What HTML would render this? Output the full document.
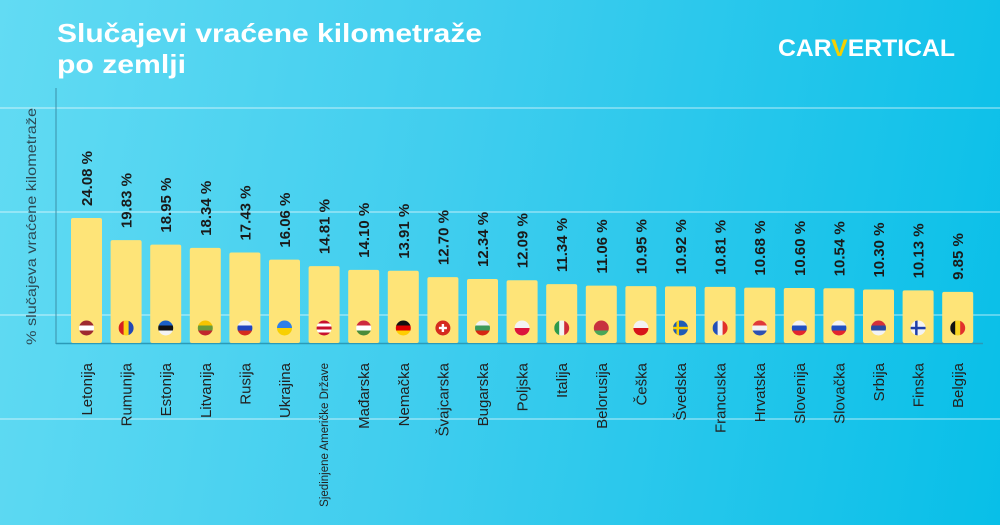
<!DOCTYPE html>
<html><head><meta charset="utf-8"><style>
html,body{margin:0;padding:0;width:1000px;height:525px;overflow:hidden}
body{background:linear-gradient(100deg,#62dbf3 0%,#3fcdee 45%,#08bfe8 100%);font-family:"Liberation Sans",sans-serif}
svg{position:absolute;left:0;top:0}
</style></head><body>
<svg id="s" width="1000" height="525" xmlns="http://www.w3.org/2000/svg">
<text x="57" y="42" fill="#fff" font-size="26" font-weight="bold" textLength="425" lengthAdjust="spacingAndGlyphs">Slučajevi vraćene kilometraže</text>
<text x="57" y="73" fill="#fff" font-size="26" font-weight="bold" textLength="129" lengthAdjust="spacingAndGlyphs">po zemlji</text>
<text x="778" y="56" fill="#fff" font-size="24" font-weight="bold" textLength="177" lengthAdjust="spacingAndGlyphs">CAR<tspan fill="#f5d000">V</tspan>ERTICAL</text>
<g stroke="#ffffff" stroke-opacity="0.45" stroke-width="1.5">
<line x1="0" y1="108" x2="1000" y2="108"/><line x1="0" y1="212" x2="1000" y2="212"/>
<line x1="0" y1="315" x2="1000" y2="315"/><line x1="0" y1="419" x2="1000" y2="419"/>
</g>
<line x1="56" y1="88" x2="56" y2="344" stroke="#3a8fa8" stroke-width="1"/>
<line x1="56" y1="343.5" x2="983" y2="343.5" stroke="#2a9ab8" stroke-width="1.5"/>
<text transform="translate(36,345) rotate(-90)" font-size="14" fill="#2d4a55" textLength="237" lengthAdjust="spacingAndGlyphs">% slučajeva vraćene kilometraže</text>
<g id="g"></g>
</svg>
<script>
var d=[["Letonija",24.08,[["#9e2a2f","#fff","#9e2a2f"],"h"]],["Rumunija",19.83,[["#d7201f","#fcd116","#2348b5"],"v"]],["Estonija",18.95,[["#1b60c6","#111","#f3f3f3"],"h"]],["Litvanija",18.34,[["#f7c400","#6a9a3a","#c1272d"],"h"]],["Rusija",17.43,[["#f3f3f3","#2045c0","#d52b1e"],"h"]],["Ukrajina",16.06,[["#2d7fe8","#f8d000"],"h"]],["Sjedinjene Američke Države",14.81,[["#c8102e","#fff","#c8102e","#fff","#c8102e"],"h"]],["Mađarska",14.10,[["#cd2a3e","#fff","#4a8c3a"],"h"]],["Nemačka",13.91,[["#111","#dd0000","#ffce00"],"h"]],["Švajcarska",12.70,[["#d52b1e"],"h"]],["Bugarska",12.34,[["#f3f3f3","#3c9a5a","#d62612"],"h"]],["Poljska",12.09,[["#f3f3f3","#dc143c"],"h"]],["Italija",11.34,[["#2e9a4a","#f3f3f3","#ce2b37"],"v"]],["Belorusija",11.06,[["#c8313e","#c8313e","#4aa657"],"h"]],["Češka",10.95,[["#f3f3f3","#d7141a"],"h"]],["Švedska",10.92,[["#1f5bb5"],"h"]],["Francuska",10.81,[["#2350b8","#f3f3f3","#e1302b"],"v"]],["Hrvatska",10.68,[["#e03a3a","#f3f3f3","#2f52b0"],"h"]],["Slovenija",10.60,[["#f3f3f3","#1f4fc0","#e3262d"],"h"]],["Slovačka",10.54,[["#f3f3f3","#1f4fc0","#e3262d"],"h"]],["Srbija",10.30,[["#d5313a","#2a4aa0","#f3f3f3"],"h"]],["Finska",10.13,[["#f3f3f3"],"h"]],["Belgija",9.85,[["#111","#f8d520","#e2302d"],"v"]]];
var g=document.getElementById("g"),h="";
d.forEach(function(e,i){
var x=71+i*39.6,bh=e[1]*5.19,top=343-bh,cx=x+15.5;
h+='<rect x="'+x+'" y="'+top+'" width="31" height="'+bh+'" rx="2" fill="#fee478"/>';
h+='<clipPath id="c'+i+'"><circle cx="'+cx+'" cy="328" r="7.5"/></clipPath><g clip-path="url(#c'+i+')">';
var cs=e[2][0],n=cs.length;
cs.forEach(function(c,k){
if(e[2][1]=="h")h+='<rect x="'+(cx-8)+'" y="'+(320.5+15*k/n)+'" width="16" height="'+(15/n+0.5)+'" fill="'+c+'"/>';
else h+='<rect x="'+(cx-7.5+15*k/n)+'" y="320" width="'+(15/n+0.5)+'" height="16" fill="'+c+'"/>';});
if(e[0]=="Švajcarska")h+='<rect x="'+(cx-1.2)+'" y="324" width="2.4" height="8" fill="#fff"/><rect x="'+(cx-4)+'" y="326.8" width="8" height="2.4" fill="#fff"/>';
if(e[0]=="Švedska")h+='<rect x="'+(cx-4)+'" y="320" width="2.5" height="16" fill="#f8d000"/><rect x="'+(cx-8)+'" y="326.8" width="16" height="2.5" fill="#f8d000"/>';
if(e[0]=="Finska")h+='<rect x="'+(cx-3)+'" y="320" width="2.5" height="16" fill="#1f3fa8"/><rect x="'+(cx-8)+'" y="326.8" width="16" height="2.5" fill="#1f3fa8"/>';
h+='</g>';
h+='<text transform="translate('+(cx+5.5)+','+(top-12)+') rotate(-90)" font-size="15" font-weight="bold" fill="#1a1a1a">'+e[1].toFixed(2)+' %</text>';
var small=e[0].length>12;
h+='<text transform="translate('+(cx+(small?4:5.5))+',363) rotate(-90)" text-anchor="end" font-size="'+(small?11.5:15)+'" fill="#222">'+e[0]+'</text>';
});
g.innerHTML=h;
</script>
</body></html>
